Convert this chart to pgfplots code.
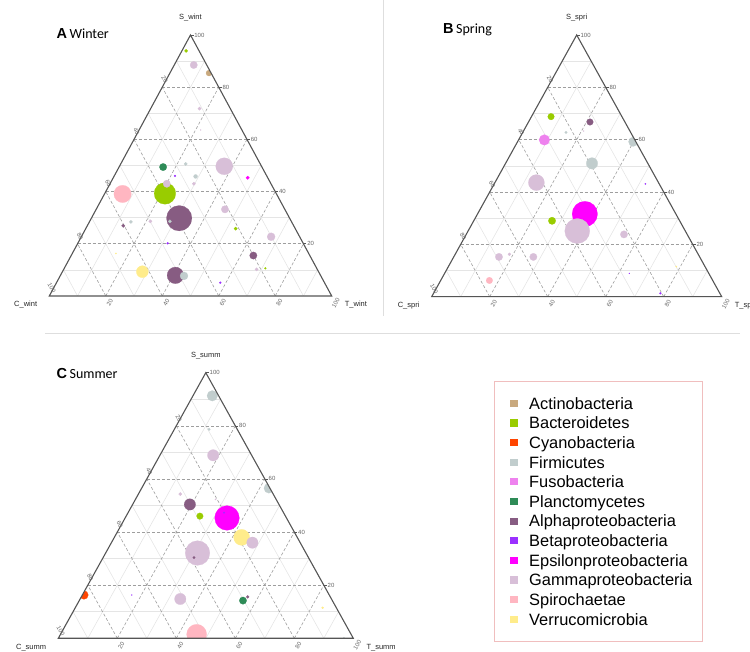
\documentclass[border=0pt]{standalone}
\usepackage{pgfplots}
\pgfplotsset{compat=1.18}
\usepackage{pgfplotstable}
\usepackage{fontspec}
\setmainfont{Liberation Sans}
\newfontfamily\calib{Carlito}

% phylum / class colours
\definecolor{cAct}{RGB}{201,169,126}
\definecolor{cBac}{RGB}{153,204,0}
\definecolor{cCya}{RGB}{255,69,0}
\definecolor{cFir}{RGB}{193,205,205}
\definecolor{cFus}{RGB}{238,130,238}
\definecolor{cPla}{RGB}{46,139,87}
\definecolor{cAlp}{RGB}{135,92,130}
\definecolor{cBet}{RGB}{155,48,255}
\definecolor{cEps}{RGB}{255,0,255}
\definecolor{cGam}{RGB}{216,191,216}
\definecolor{cSpi}{RGB}{255,182,193}
\definecolor{cVer}{RGB}{255,236,139}
\definecolor{edgec}{RGB}{85,85,85}
\definecolor{legborder}{RGB}{240,190,190}

% composition (percent) of S, T, C and bubble radius r (pt)
\pgfplotstableread{
S     T      C      r     cat
29.8  31.1   39.1   12.7  Alp
39.3  21.3   39.4   10.8  Bac
39.1  6.4    54.5   8.7   Spi
49.7  37.1   13.2   8.5   Gam
7.9   40.7   51.4   8.3   Alp
9.3   28.3   62.4   6.0   Ver
22.7  67.2   10.1   4.0   Gam
7.7   43.85  48.45  4.0   Fir
88.5  6.9    4.6    3.7   Gam
49.4  15.6   35.0   3.7   Pla
43.0  20.1   36.9   3.7   Gam
33.2  45.6   21.2   3.7   Gam
15.5  64.5   20.0   3.7   Alp
85.4  13.85  0.75   3.0   Act
45.8  28.9   25.3   2.0   Fir
93.9  1.5    4.6    1.7   Bac
71.8  17.3   10.9   1.7   Gam
50.6  23.0   26.4   1.7   Fir
45.3  47.6   7.1    1.7   Eps
43.0  29.7   27.3   1.7   Gam
28.6  28.4   43.0   1.7   Fir
28.6  21.5   49.9   1.7   Gam
28.4  14.7   56.9   1.7   Fir
26.9  12.75  60.35  1.7   Alp
25.8  53.1   21.1   1.7   Bac
10.2  68.3   21.5   1.7   Gam
46.0  21.5   32.5   1.0   Bet
20.2  31.8   48.0   1.0   Bet
10.6  71.2   18.2   1.0   Bac
5.1   58.0   36.9   1.0   Bet
16.3  15.45  68.25  0.7   Ver
63.6  21.8   14.6   0.5   Gam
}\winter

\pgfplotstableread{
S     T      C      r     cat
31.6  37.0   31.4   12.7  Eps
25.1  37.65  37.25  12.5  Gam
43.6  14.3   42.1   8.0   Gam
50.95 29.8   19.25  5.7   Fir
59.9  8.9    31.2   5.3   Fus
59.2  39.9   0.9    4.7   Fir
29.0  27.0   44.0   3.7   Bac
23.8  54.4   21.8   3.7   Gam
15.2  15.6   69.2   3.7   Gam
15.2  27.46  57.34  3.7   Gam
68.8  6.75   24.45  3.3   Bac
66.75 21.2   12.05  3.3   Alp
6.2   16.8   77.0   3.3   Spi
16.2  18.7   65.1   1.5   Gam
62.8  14.9   22.3   1.3   Fir
1.3   78.2   20.5   1.0   Bet
43.1  52.15  4.75   0.7   Bet
11.5  78.6   9.9    0.7   Ver
8.9   63.7   27.4   0.5   Bet
63.3  20.75  15.95  0.5   Gam
}\spring

\pgfplotstableread{
S     T      C      r     cat
45.3  34.55  20.15  12.3  Eps
32.1  31.15  36.75  12.3  Gam
1.5   46.15  52.35  10.0  Spi
38.0  43.15  18.85  8.0   Ver
68.9  18.05  13.05  5.7   Gam
50.4  19.4   30.2   5.7   Alp
36.0  47.8   16.2   5.7   Gam
14.8  33.95  51.25  5.7   Gam
91.3  6.55   2.15   5.3   Fir
56.5  43.15  0.35   5.0   Fir
16.3  0.55   83.15  4.3   Cya
14.2  55.5   30.3   3.7   Pla
46.0  25.0   29.0   3.3   Bac
54.3  14.2   31.5   1.7   Gam
15.6  56.4   28.0   1.5   Alp
78.7  11.75  9.55   1.3   Fir
30.4  30.8   38.8   1.3   Alp
11.5  83.85  4.65   1.0   Ver
47.3  32.55  20.15  0.8   Bet
52.3  27.15  20.55  0.7   Gam
16.3  16.75  66.95  0.5   Bet
0.25  96.7   3.05   0.5   Fir
}\summer

\tikzset{
  mingrid/.style={draw=black!10, line width=0.6pt},
  majgrid/.style={draw=black!38, line width=0.6pt, dash pattern=on 3pt off 2pt},
  edgeline/.style={draw=edgec, line width=1.1pt},
  ticklab/.style={font=\fontsize{6}{7}\selectfont, text=black!60, inner sep=0.6pt},
  axlab/.style={font=\fontsize{7.5}{9}\selectfont, text=black!85, inner sep=0pt},
}

\pgfplotsset{
  ternframe/.style={
    scale only axis, hide axis, clip=false, clip marker paths=true,
    xmin=0, xmax=100, ymin=0, ymax=100,
    anchor=south west,
  },
  bubbles/.style={
    scatter, only marks, mark=*,
    scatter src=explicit symbolic,
    scatter/classes={
      Act={fill=cAct, draw=cAct},
      Bac={fill=cBac, draw=cBac},
      Cya={fill=cCya, draw=cCya},
      Fir={fill=cFir, draw=cFir},
      Fus={fill=cFus, draw=cFus},
      Pla={fill=cPla, draw=cPla},
      Alp={fill=cAlp, draw=cAlp},
      Bet={fill=cBet, draw=cBet},
      Eps={fill=cEps, draw=cEps},
      Gam={fill=cGam, draw=cGam},
      Spi={fill=cSpi, draw=cSpi},
      Ver={fill=cVer, draw=cVer}
    },
    line width=0.2pt,
    visualization depends on={\thisrow{r}\as\rad},
    scatter/@pre marker code/.append style={/tikz/mark size=\rad pt},
  },
}

% x = T + S/2, y = S in an axis spanning 0..100 on both directions
\newcommand{\terngrid}{%
  \pgfplotsinvokeforeach{10,30,50,70,90}{%
    \draw[mingrid] (axis cs:{##1/2},##1) -- (axis cs:{100-##1/2},##1);
    \draw[mingrid] (axis cs:##1,0) -- (axis cs:{(100+##1)/2},{100-##1});
    \draw[mingrid] (axis cs:{100-##1},0) -- (axis cs:{(100-##1)/2},{100-##1});
  }%
  \pgfplotsinvokeforeach{20,40,60,80}{%
    \draw[majgrid] (axis cs:{##1/2},##1) -- (axis cs:{100-##1/2},##1);
    \draw[majgrid] (axis cs:##1,0) -- (axis cs:{(100+##1)/2},{100-##1});
    \draw[majgrid] (axis cs:{100-##1},0) -- (axis cs:{(100-##1)/2},{100-##1});
  }%
}

% white surround that trims bubbles to the triangle, then edges, ticks and titles
\newcommand{\ternedges}[1]{%
  \fill[white] (axis cs:0,0) -- (axis cs:50,100) -- (axis cs:50,107) -- (axis cs:-7,107)
     -- (axis cs:-7,-7) -- (axis cs:107,-7) -- (axis cs:107,107) -- (axis cs:50,107)
     -- (axis cs:50,100) -- (axis cs:100,0) -- cycle;
  \draw[edgeline] (axis cs:0,0) -- (axis cs:50,100) -- (axis cs:100,0) -- cycle;
  \pgfplotsinvokeforeach{20,40,60,80,100}{%
    \draw[edgec, line width=0.6pt] (axis cs:{100-##1/2},##1) -- ++(3pt,0)
        node[ticklab, anchor=west] {##1};
    \node[ticklab, rotate=-60, xshift=-5.5pt, yshift=6pt]
        at (axis cs:{(100-##1)/2},{100-##1}) {##1};
    \node[ticklab, rotate=60, xshift=-4pt, yshift=-7pt]
        at (axis cs:##1,0) {##1};
  }%
  \node[axlab, anchor=south, yshift=14pt] at (axis cs:50,100) {S\_#1};
  \node[axlab, anchor=east, xshift=-12pt, yshift=-9pt] at (axis cs:0,0) {C\_#1};
  \node[axlab, anchor=west, xshift=13pt, yshift=-9pt] at (axis cs:100,0) {T\_#1};
}

\begin{document}
\begin{tikzpicture}
\useasboundingbox (0,0) rectangle (750pt,652pt);

% A: winter
\begin{axis}[ternframe, at={(49.3pt,356pt)}, width=282.4pt, height=261pt]
  \terngrid
  \addplot[bubbles] table[x expr=\thisrow{T}+0.5*\thisrow{S}, y=S, meta=cat] {\winter};
  \ternedges{wint}
\end{axis}

% B: spring
\begin{axis}[ternframe, at={(431.7pt,355.3pt)}, width=290pt, height=261.7pt]
  \terngrid
  \addplot[bubbles] table[x expr=\thisrow{T}+0.5*\thisrow{S}, y=S, meta=cat] {\spring};
  \ternedges{spri}
\end{axis}

% C: summer
\begin{axis}[ternframe, at={(58.3pt,13.7pt)}, width=295pt, height=265.6pt]
  \terngrid
  \addplot[bubbles] table[x expr=\thisrow{T}+0.5*\thisrow{S}, y=S, meta=cat] {\summer};
  \ternedges{summ}
\end{axis}

% panel titles
\node[anchor=base west, inner sep=0] at (56.5pt,613pt)
  {\fontsize{14.5}{16}\selectfont\bfseries A\,\calib\mdseries\fontsize{14}{16}\selectfont Winter};
\node[anchor=base west, inner sep=0] at (443pt,618pt)
  {\fontsize{14.5}{16}\selectfont\bfseries B\,\calib\mdseries\fontsize{14}{16}\selectfont Spring};
\node[anchor=base west, inner sep=0] at (56.5pt,273pt)
  {\fontsize{14.5}{16}\selectfont\bfseries C\,\calib\mdseries\fontsize{14}{16}\selectfont Summer};

% panel separators
\draw[black!13, line width=0.8pt] (383.5pt,652pt) -- (383.5pt,336pt);
\draw[black!13, line width=0.8pt] (45pt,319pt) -- (740pt,319pt);

% legend
\draw[legborder, line width=0.8pt] (494pt,271pt) rectangle (702.5pt,11pt);
\foreach \name/\col [count=\i from 0] in {
  Actinobacteria/cAct, Bacteroidetes/cBac, Cyanobacteria/cCya, Firmicutes/cFir,
  Fusobacteria/cFus, Planctomycetes/cPla, Alphaproteobacteria/cAlp,
  Betaproteobacteria/cBet, Epsilonproteobacteria/cEps, Gammaproteobacteria/cGam,
  Spirochaetae/cSpi, Verrucomicrobia/cVer}{
  \pgfmathsetmacro\yy{652-403.3-19.64*\i}
  \fill[\col] (510.4pt,\yy pt-3.6pt) rectangle ++(7.2pt,7.2pt);
  \node[anchor=base west, inner sep=0, font=\fontsize{16.4}{18}\selectfont]
    at (529pt,\yy pt-5.8pt) {\name};
}
\end{tikzpicture}
\end{document}
